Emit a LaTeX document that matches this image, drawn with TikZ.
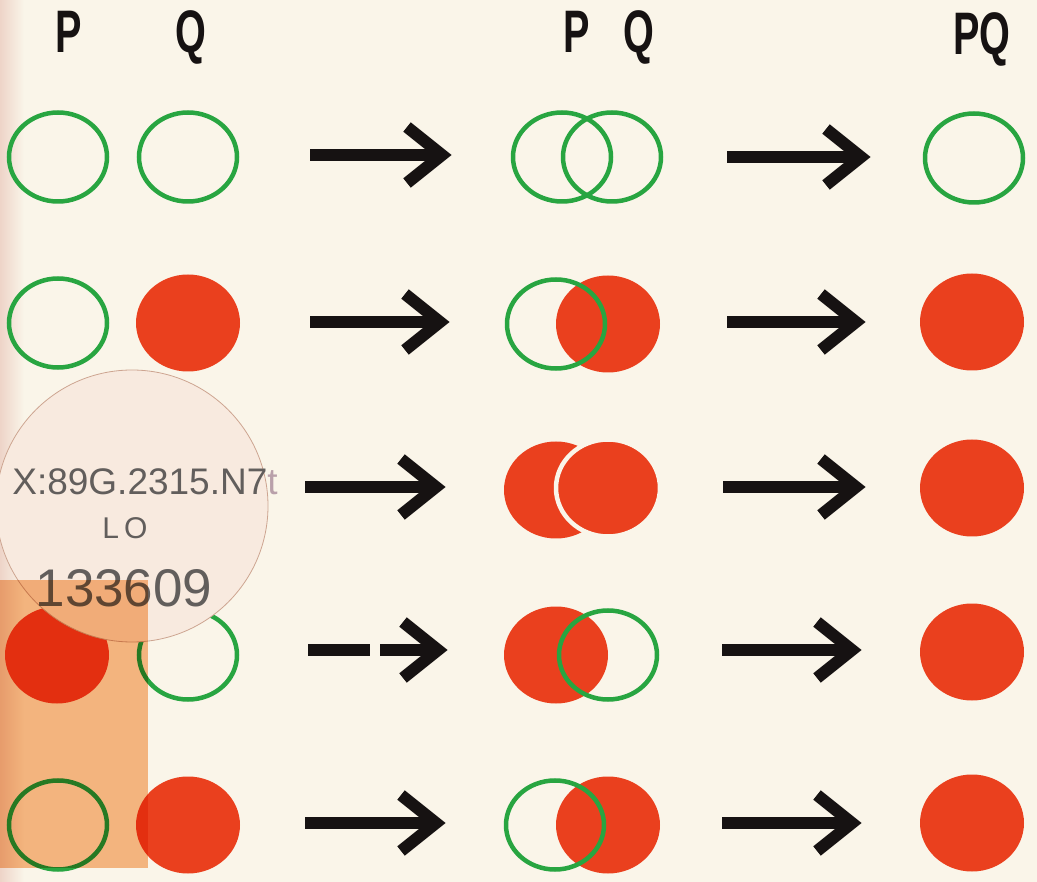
\documentclass[tikz,border=0pt]{standalone}
\usepackage{fontspec}
\usepackage{graphicx}
\usetikzlibrary{calc,shapes.geometric}
\newfontfamily\labfont{Liberation Sans}
\definecolor{paper}{RGB}{250,245,233}
\definecolor{paperpink}{RGB}{238,212,200}
\definecolor{ringgreen}{RGB}{40,165,65}
\definecolor{dotred}{RGB}{234,64,30}
\definecolor{inkblack}{RGB}{22,18,18}
\definecolor{stickfill}{RGB}{248,234,223}
\definecolor{stickline}{RGB}{205,165,145}
\definecolor{pencil}{RGB}{98,94,92}
\definecolor{pencilpale}{RGB}{185,160,170}
\definecolor{tapecol}{RGB}{248,188,138}
\newcommand\fatarrow[2]{%
  \draw[arrshaft] (#1) -- ($(#2)+(-12,0)$);
  \draw[arrhead] ($(#2)+(-45,-28)$) -- ($(#2)+(-10,0)$) -- ($(#2)+(-45,28)$);}
\begin{document}
\begin{tikzpicture}[x=1pt,y=-1pt,
  gring/.style={ellipse,draw=ringgreen,line width=4.5pt,minimum width=98pt,minimum height=89pt,inner sep=0pt},
  rdot/.style={ellipse,fill=dotred,minimum width=104pt,minimum height=97pt,inner sep=0pt},
  letter/.style={inner sep=0pt,anchor=base,text=inkblack,font=\labfont\bfseries\fontsize{60}{60}\selectfont},
  arrshaft/.style={draw=inkblack,line width=11.5pt},
  arrhead/.style={draw=inkblack,line width=12pt,line join=miter},
  sticktext/.style={inner sep=0pt,text=pencil}]
\useasboundingbox (0,0) rectangle (1037,882);
\fill[paper] (0,0) rectangle (1037,882);
\shade[left color=paperpink,right color=paper] (0,0) rectangle (24,882);

% headings
\node[letter] (hP1) at (69,53) {\scalebox{0.66}[1]{P}};
\node[letter] (hQ1) at (191,53) {\scalebox{0.66}[1]{Q}};
\node[letter] (hP2) at (577,53) {\scalebox{0.66}[1]{P}};
\node[letter] (hQ2) at (639,53) {\scalebox{0.66}[1]{Q}};
\node[letter] (hPQ) at (982,55) {\scalebox{0.66}[1]{PQ}};

% row 1
\node[gring] (p1) at (58,157) {};
\node[gring] (q1) at (188,157) {};
\node[gring] (m1a) at (562,157) {};
\node[gring] (m1b) at (612,157) {};
\node[gring] (r1) at (974,158) {};
% row 2
\node[gring] (p2) at (58,323) {};
\node[rdot] (q2) at (188,323) {};
\node[rdot] (m2b) at (608,324) {};
\node[gring] (m2a) at (556,324) {};
\node[rdot] (r2) at (972,322) {};
% row 3
\node[rdot] (m3a) at (556,490) {};
\node[rdot,draw=paper,line width=4.5pt] (m3b) at (608,488) {};
\node[rdot] (r3) at (972,488) {};
% row 4
\node[rdot] (p4) at (57,655) {};
\node[gring] (q4) at (188,655) {};
\node[rdot] (m4a) at (556,655) {};
\node[gring] (m4b) at (608,655) {};
\node[rdot] (r4) at (972,652) {};
% row 5
\node[gring] (p5) at (58,825) {};
\node[rdot] (q5) at (188,825) {};
\node[rdot] (m5b) at (608,825) {};
\node[gring] (m5a) at (555,825) {};
\node[rdot] (r5) at (972,823) {};

% arrows
\coordinate (a1s) at (310,155); \coordinate (a1e) at (452,155);
\coordinate (b1s) at (727,157); \coordinate (b1e) at (871,157);
\coordinate (a2s) at (310,322); \coordinate (a2e) at (450,322);
\coordinate (b2s) at (727,322); \coordinate (b2e) at (866,322);
\coordinate (a3s) at (305,487); \coordinate (a3e) at (446,487);
\coordinate (b3s) at (723,487); \coordinate (b3e) at (866,487);
\coordinate (a4s) at (380,650); \coordinate (a4e) at (448,650);
\coordinate (a4g) at (308,650); \coordinate (a4h) at (370,650);
\coordinate (b4s) at (722,650); \coordinate (b4e) at (862,650);
\coordinate (a5s) at (305,823); \coordinate (a5e) at (446,823);
\coordinate (b5s) at (722,823); \coordinate (b5e) at (862,823);
\fatarrow{a1s}{a1e}\fatarrow{b1s}{b1e}
\fatarrow{a2s}{a2e}\fatarrow{b2s}{b2e}
\fatarrow{a3s}{a3e}\fatarrow{b3s}{b3e}
\fatarrow{a4s}{a4e}\fatarrow{b4s}{b4e}
\draw[arrshaft] (a4g) -- (a4h);
\fatarrow{a5s}{a5e}\fatarrow{b5s}{b5e}

% library sticker
\node[circle,fill=stickfill,draw=stickline,line width=0.8pt,minimum size=272pt,inner sep=0pt] (sticker) at (132,506) {};
\node[sticktext,font=\labfont\fontsize{37}{37}\selectfont] (call) at (145,482) {X:89G.2315.N7\textcolor{pencilpale}{t}};
\node[sticktext,font=\labfont\fontsize{30}{30}\selectfont] (lo) at (125,528) {L\,O};
\node[sticktext,font=\labfont\fontsize{53}{53}\selectfont] (acc) at (124,588) {133609};

% tape
\begin{scope}[blend mode=multiply]
\fill[tapecol] (0,580) rectangle (148,868);
\end{scope}
\end{tikzpicture}
\end{document}
